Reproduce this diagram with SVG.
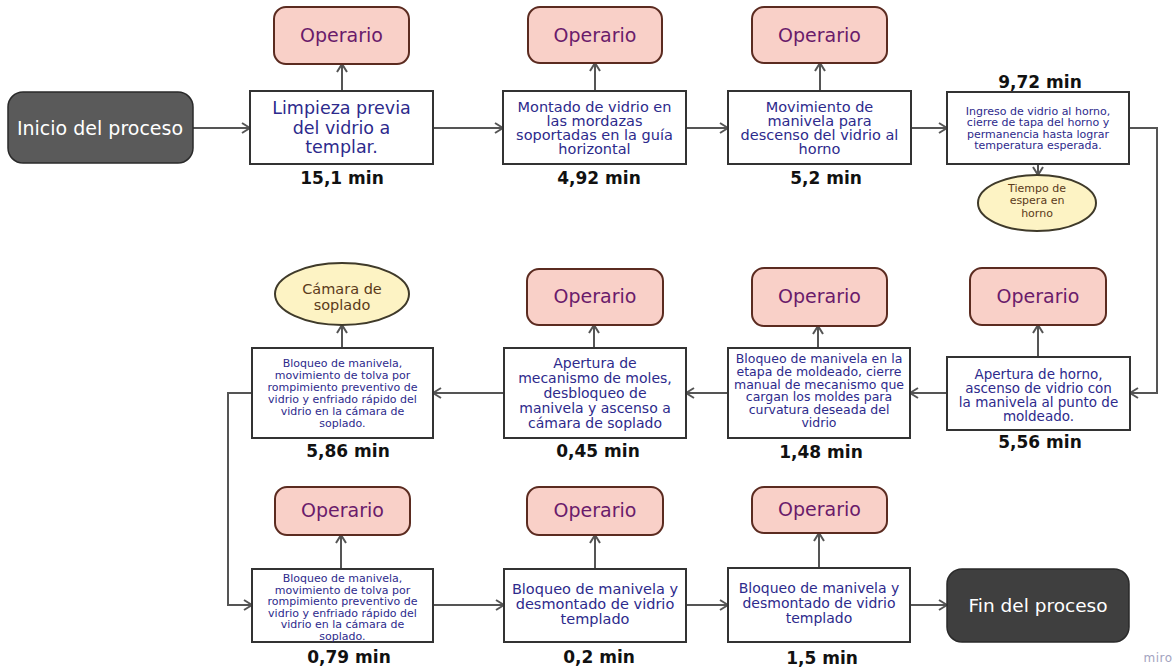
<svg xmlns="http://www.w3.org/2000/svg" width="1176" height="667" viewBox="0 0 1176 667">
<style>
.bg{fill:#ffffff}
.box{fill:#ffffff;stroke:#333333;stroke-width:2}
.op{fill:#f9d0c8;stroke:#5b2b20;stroke-width:2}
.opt{font-family:"DejaVu Sans",sans-serif;font-size:19px;fill:#6a1b6b;text-anchor:middle}
.term{stroke:#2a2a2a;stroke-width:1.5}
.termt{font-family:"DejaVu Sans",sans-serif;font-size:19px;fill:#ffffff;text-anchor:middle}
.t{font-family:"DejaVu Sans",sans-serif;fill:#2d2a8c;text-anchor:middle}
.big{font-size:17.5px}
.mid{font-size:14.5px}
.m14{font-size:14px}
.m135{font-size:13.5px}
.s125{font-size:12.5px}
.sm{font-size:11px}
.ell{fill:#fdf3c4;stroke:#3f3a2a;stroke-width:2}
.et{font-family:"DejaVu Sans",sans-serif;fill:#5a3a1a;text-anchor:middle}
.min{font-family:"DejaVu Sans",sans-serif;font-weight:bold;font-size:17px;fill:#111111;text-anchor:middle}
.c{fill:none;stroke:#555555;stroke-width:2;marker-end:url(#a)}
</style>
<defs>
<marker id="a" viewBox="0 0 10 12" refX="9" refY="6" markerWidth="10" markerHeight="12" markerUnits="userSpaceOnUse" orient="auto">
<path d="M1,1 L9,6 L1,11" fill="none" stroke="#555555" stroke-width="2"/>
</marker>
</defs>
<rect class="bg" x="0" y="0" width="1176" height="667"/>

<g id="connectors">
<path class="c" d="M193,128 H250"/>
<path class="c" d="M433,128 H503"/>
<path class="c" d="M686,128 H728"/>
<path class="c" d="M911,128 H947"/>
<path class="c" d="M1038,164 V175"/>
<path class="c" d="M1129,128 H1157 V393 H1130"/>
<path class="c" d="M947,393 H910"/>
<path class="c" d="M728,393 H686"/>
<path class="c" d="M504,393 H433"/>
<path class="c" d="M252,393 H228 V605 H252"/>
<path class="c" d="M433,605 H504"/>
<path class="c" d="M686,605 H728"/>
<path class="c" d="M910,605 H947"/>
<path class="c" d="M342,91 V64"/>
<path class="c" d="M595,91 V63"/>
<path class="c" d="M820,91 V63"/>
<path class="c" d="M1038,357 V325"/>
<path class="c" d="M818,348 V326"/>
<path class="c" d="M594,348 V325"/>
<path class="c" d="M342,348 V325"/>
<path class="c" d="M341,569 V535"/>
<path class="c" d="M595,569 V535"/>
<path class="c" d="M819,568 V533"/>
</g>

<g id="inicio">
<rect class="term" x="8" y="92" width="185" height="71" rx="15" fill="#5a5a5a"/>
<text class="termt" x="100" y="134.5">Inicio del proceso</text>
</g>

<g id="op1"><rect class="op" x="274" y="7" width="135" height="57" rx="12"/><text class="opt" x="341.5" y="42">Operario</text></g>
<g id="op2"><rect class="op" x="528" y="7" width="134" height="56" rx="12"/><text class="opt" x="595" y="42">Operario</text></g>
<g id="op3"><rect class="op" x="752" y="7" width="135" height="56" rx="12"/><text class="opt" x="819.5" y="42">Operario</text></g>
<g id="op6"><rect class="op" x="970" y="268" width="136" height="57" rx="12"/><text class="opt" x="1038" y="303">Operario</text></g>
<g id="op7"><rect class="op" x="752" y="268" width="135" height="58" rx="12"/><text class="opt" x="819.5" y="303">Operario</text></g>
<g id="op8"><rect class="op" x="527" y="269" width="136" height="56" rx="12"/><text class="opt" x="595" y="303">Operario</text></g>
<g id="op10"><rect class="op" x="275" y="487" width="135" height="48" rx="12"/><text class="opt" x="342.5" y="517">Operario</text></g>
<g id="op11"><rect class="op" x="527" y="487" width="136" height="48" rx="12"/><text class="opt" x="595" y="517">Operario</text></g>
<g id="op12"><rect class="op" x="752" y="487" width="135" height="46" rx="12"/><text class="opt" x="819.5" y="516">Operario</text></g>

<g id="box1">
<rect class="box" x="250" y="91" width="183" height="73"/>
<text class="t big"><tspan x="341.5" y="114">Limpieza previa</tspan><tspan x="341.5" y="133.5">del vidrio a</tspan><tspan x="341.5" y="153">templar.</tspan></text>
<text class="min" x="342" y="184">15,1 min</text>
</g>

<g id="box2">
<rect class="box" x="503" y="91" width="183" height="73"/>
<text class="t mid"><tspan x="594.5" y="111.5">Montado de vidrio en</tspan><tspan x="594.5" y="125.5">las mordazas</tspan><tspan x="594.5" y="139.5">soportadas en la guía</tspan><tspan x="594.5" y="153.5">horizontal</tspan></text>
<text class="min" x="599" y="184">4,92 min</text>
</g>

<g id="box3">
<rect class="box" x="728" y="91" width="183" height="73"/>
<text class="t mid"><tspan x="819.5" y="111.5">Movimiento de</tspan><tspan x="819.5" y="125.5">manivela para</tspan><tspan x="819.5" y="139.5">descenso del vidrio al</tspan><tspan x="819.5" y="153.5">horno</tspan></text>
<text class="min" x="826" y="184">5,2 min</text>
</g>

<g id="box4">
<text class="min" x="1040" y="88">9,72 min</text>
<rect class="box" x="947" y="92" width="182" height="72"/>
<text class="t sm"><tspan x="1038" y="114.5">Ingreso de vidrio al horno,</tspan><tspan x="1038" y="126">cierre de tapa del horno y</tspan><tspan x="1038" y="137.5">permanencia hasta lograr</tspan><tspan x="1038" y="149">temperatura esperada.</tspan></text>
</g>

<g id="espera">
<ellipse class="ell" cx="1037" cy="203" rx="59" ry="28"/>
<text class="et sm"><tspan x="1037" y="191.5">Tiempo de</tspan><tspan x="1037" y="204">espera en</tspan><tspan x="1037" y="216.5">horno</tspan></text>
</g>

<g id="box6">
<rect class="box" x="947" y="357" width="183" height="73"/>
<text class="t m135"><tspan x="1038.5" y="379">Apertura de horno,</tspan><tspan x="1038.5" y="393">ascenso de vidrio con</tspan><tspan x="1038.5" y="407">la manivela al punto de</tspan><tspan x="1038.5" y="421">moldeado.</tspan></text>
<text class="min" x="1040" y="448">5,56 min</text>
</g>

<g id="box7">
<rect class="box" x="728" y="348" width="182" height="90"/>
<text class="t s125"><tspan x="819" y="363">Bloqueo de manivela en la</tspan><tspan x="819" y="375.8">etapa de moldeado, cierre</tspan><tspan x="819" y="388.6">manual de mecanismo que</tspan><tspan x="819" y="401.4">cargan los moldes para</tspan><tspan x="819" y="414.2">curvatura deseada del</tspan><tspan x="819" y="427">vidrio</tspan></text>
<text class="min" x="821" y="458">1,48 min</text>
</g>

<g id="box8">
<rect class="box" x="504" y="348" width="182" height="90"/>
<text class="t m14"><tspan x="595" y="368">Apertura de</tspan><tspan x="595" y="383">mecanismo de moles,</tspan><tspan x="595" y="398">desbloqueo de</tspan><tspan x="595" y="413">manivela y ascenso a</tspan><tspan x="595" y="428">cámara de soplado</tspan></text>
<text class="min" x="598" y="457">0,45 min</text>
</g>

<g id="box9">
<rect class="box" x="252" y="348" width="181" height="90"/>
<text class="t sm"><tspan x="342.5" y="367">Bloqueo de manivela,</tspan><tspan x="342.5" y="379">movimiento de tolva por</tspan><tspan x="342.5" y="391">rompimiento preventivo de</tspan><tspan x="342.5" y="403">vidrio y enfriado rápido del</tspan><tspan x="342.5" y="415">vidrio en la cámara de</tspan><tspan x="342.5" y="427">soplado.</tspan></text>
<text class="min" x="348" y="457">5,86 min</text>
</g>

<g id="camara">
<ellipse class="ell" cx="342" cy="294" rx="67" ry="31"/>
<text class="et mid"><tspan x="342" y="294">Cámara de</tspan><tspan x="342" y="309.5">soplado</tspan></text>
</g>

<g id="box10">
<rect class="box" x="252" y="569" width="181" height="73"/>
<text class="t sm"><tspan x="342.5" y="582">Bloqueo de manivela,</tspan><tspan x="342.5" y="593.5">movimiento de tolva por</tspan><tspan x="342.5" y="605">rompimiento preventivo de</tspan><tspan x="342.5" y="616.5">vidrio y enfriado rápido del</tspan><tspan x="342.5" y="628">vidrio en la cámara de</tspan><tspan x="342.5" y="639.5">soplado.</tspan></text>
<text class="min" x="349" y="663">0,79 min</text>
</g>

<g id="box11">
<rect class="box" x="504" y="569" width="182" height="73"/>
<text class="t mid"><tspan x="595" y="594">Bloqueo de manivela y</tspan><tspan x="595" y="609">desmontado de vidrio</tspan><tspan x="595" y="624">templado</tspan></text>
<text class="min" x="599" y="663">0,2 min</text>
</g>

<g id="box12">
<rect class="box" x="728" y="568" width="182" height="74"/>
<text class="t m14"><tspan x="819" y="593">Bloqueo de manivela y</tspan><tspan x="819" y="608">desmontado de vidrio</tspan><tspan x="819" y="623">templado</tspan></text>
<text class="min" x="822" y="664">1,5 min</text>
</g>

<g id="fin">
<rect class="term" x="947" y="569" width="182" height="73" rx="15" fill="#3f3f3f"/>
<text class="termt" x="1038" y="611.5" style="font-size:18.5px">Fin del proceso</text>
</g>

<text x="1158" y="662" style="font-family:'DejaVu Sans',sans-serif;font-size:12px;fill:#a3a3c0;text-anchor:middle;letter-spacing:0.5px">miro</text>
</svg>
